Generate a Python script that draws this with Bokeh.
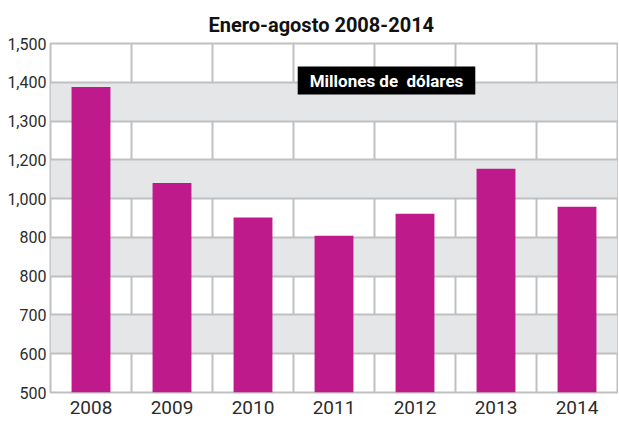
from bokeh.plotting import figure
from bokeh.models import FixedTicker, Label, ColumnDataSource, Range1d
from bokeh.embed import file_html
from bokeh.resources import INLINE

# Data (values read on the chart's evenly spaced grid, top gridline = 1,500)
years = ["2008", "2009", "2010", "2011", "2012", "2013", "2014"]
values = [1388, 1140, 1051, 1004, 1061, 1177, 1079]

# Gridline positions and their printed labels (as in the original)
grid_values = [600, 700, 800, 900, 1000, 1100, 1200, 1300, 1400, 1500]
grid_labels = ["500", "600", "700", "800", "800", "1,000", "1,200", "1,300", "1,400", "1,500"]

title_text = "Enero-agosto 2008-2014"
unit_text = "Millones de\u00a0 dólares"

BAR = "#BE1A8C"
GRID = "#BFC0C2"
BAND = "#E5E6E8"
TXT = "#2b2b2b"

W, H = 618, 422
LEFT, TOP, BOTTOM = 50, 43, 30

xs = [i + 0.5 for i in range(len(years))]
src = ColumnDataSource(dict(x=xs, top=values, year=years))

p = figure(width=W, height=H, output_backend="svg", toolbar_location=None,
           x_range=Range1d(0, len(years)), y_range=Range1d(grid_values[0], grid_values[-1]),
           min_border_left=LEFT, min_border_right=1, min_border_top=TOP, min_border_bottom=BOTTOM)

p.vbar(x="x", top="top", bottom=grid_values[0], width=0.48, source=src,
       fill_color=BAR, line_color=None)

# title
p.title.text = title_text
p.title.align = "left"
p.title.offset = 158
p.title.text_font = "Roboto"
p.title.text_font_style = "bold"
p.title.text_font_size = "20px"
p.title.text_color = "#111111"
p.title.standoff = 13

# axes
p.xaxis.ticker = FixedTicker(ticks=xs)
p.xaxis.major_label_overrides = {x: y for x, y in zip(xs, years)}
p.yaxis.ticker = FixedTicker(ticks=grid_values)
p.yaxis.major_label_overrides = {v: l for v, l in zip(grid_values, grid_labels)}
for ax in (p.xaxis, p.yaxis):
    ax.axis_line_color = None
    ax.major_tick_line_color = None
    ax.minor_tick_line_color = None
    ax.major_tick_out = 0
    ax.major_tick_in = 0
    ax.major_label_text_font = "Roboto"
    ax.major_label_text_color = TXT
p.xaxis.major_label_text_font_size = "19px"
p.xaxis.major_label_standoff = 8
p.yaxis.major_label_text_font_size = "16px"
p.yaxis.major_label_standoff = 4

# grids
p.xgrid.ticker = FixedTicker(ticks=list(range(len(years) + 1)))
p.xgrid.grid_line_color = GRID
p.xgrid.grid_line_width = 2
p.ygrid.grid_line_color = GRID
p.ygrid.grid_line_width = 2
p.ygrid.band_fill_color = BAND
p.ygrid.band_fill_alpha = 1.0
p.ygrid.level = "underlay"
p.xgrid.level = "underlay"

p.outline_line_color = GRID
p.outline_line_width = 2
p.background_fill_color = "white"
p.border_fill_color = "white"

# screen coordinates below are relative to the plot frame's bottom-left corner
frame_bottom = H - BOTTOM
lab = Label(x=386 - LEFT, y=frame_bottom - 80, x_units="screen", y_units="screen",
            text=unit_text, text_font="Roboto", text_font_style="bold",
            text_font_size="17px", text_color="white",
            text_align="center", text_baseline="middle",
            background_fill_color="black", padding=(12, 4))
p.add_layout(lab)

open("out.html", "w").write(file_html(p, INLINE))
